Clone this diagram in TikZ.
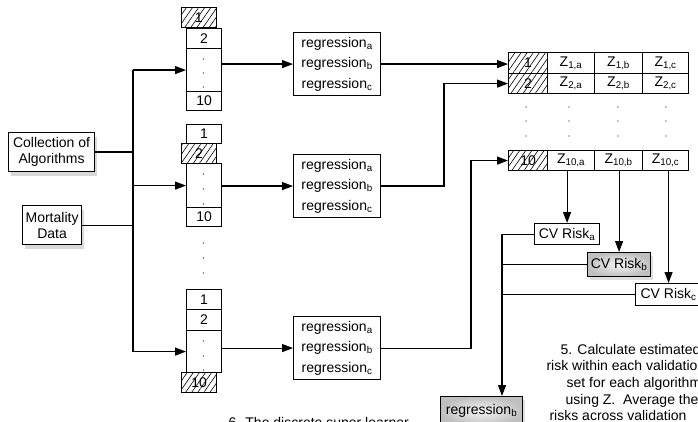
\documentclass[tikz,border=0pt]{standalone}
\usepackage{fontspec}
\setmainfont{Liberation Sans}
\usetikzlibrary{arrows.meta,patterns.meta,shadows}
\newcommand{\fsz}{\fontsize{14}{16}\selectfont}
\begin{document}
\begin{tikzpicture}[x=1pt,y=-1pt,line width=1.15pt,
  arr/.style={-{Triangle[length=11pt,width=8pt]}},
  cell/.style={draw,anchor=north west,minimum width=35pt,inner sep=0pt,font=\fsz},
  hcell/.style={cell,preaction={fill=white},pattern={Lines[angle=55,distance=5pt,line width=0.6pt]}},
  tcell/.style={draw,anchor=north west,minimum width=47pt,inner sep=0pt,font=\fsz},
  thcell/.style={tcell,minimum width=39pt,preaction={fill=white},pattern={Lines[angle=55,distance=5pt,line width=0.6pt]}},
  regbox/.style={draw,fill=white,anchor=north west,minimum width=87pt,minimum height=63pt,inner sep=0pt,align=center,font=\fontsize{14}{20.5}\selectfont},
  inbox/.style={draw,fill=white,anchor=north west,inner sep=0pt,align=center,font=\fsz,
    drop shadow={shadow xshift=2pt,shadow yshift=-4pt,opacity=0.3}},
  cvbox/.style={draw,fill=white,anchor=north west,inner sep=0pt,font=\fsz},
  gbox/.style={cvbox,inner color=gray!8,outer color=gray!50,
    drop shadow={shadow xshift=2pt,shadow yshift=-3pt,opacity=0.25}},
  txt/.style={anchor=base west,inner sep=0pt,font=\fsz},
  dot/.style={circle,fill,inner sep=0pt,minimum size=1.3pt}
]
\useasboundingbox (0,0) rectangle (698,422);
\clip (0,0) rectangle (698,422);

% input boxes
\node[inbox,minimum width=86pt,minimum height=39pt] (coll) at (8,132) {Collection of\\Algorithms};
\node[inbox,minimum width=59pt,minimum height=39pt] (mort) at (22,205) {Mortality\\Data};

% column 1
\node[hcell,minimum height=20pt] (c1n1) at (181,7) {1};
\node[cell,minimum height=20pt] (c1n2) at (186,28) {2};
\node[cell,minimum height=43pt] (c1d) at (186,48) {};
\node[cell,minimum height=19pt] (c1n10) at (186,91) {10};
% column 2
\node[cell,minimum height=19pt] (c2n1) at (186,124) {1};
\node[hcell,minimum height=20pt] (c2n2) at (181,143) {2};
\node[cell,minimum height=44pt] (c2d) at (186,163) {};
\node[cell,minimum height=19pt] (c2n10) at (186,207) {10};
% column 3
\node[cell,minimum height=20pt] (c3n1) at (186,289) {1};
\node[cell,minimum height=21pt] (c3n2) at (186,309) {2};
\node[cell,minimum height=42pt] (c3d) at (186,330) {};
\node[hcell,minimum height=20pt] (c3n10) at (181,372) {10};

% dots inside columns
\foreach \y in {59,73,87} {\node[dot] at (203.5,\y) {};}
\foreach \y in {174,189,204} {\node[dot] at (203.5,\y) {};}
\foreach \y in {341,356,370} {\node[dot] at (203.5,\y) {};}
\foreach \y in {243,258,273} {\node[dot] at (203.5,\y) {};}

% regression boxes
\node[regbox] (reg1) at (293,32) {regression\textsubscript{a}\\regression\textsubscript{b}\\regression\textsubscript{c}};
\node[regbox] (reg2) at (293,154) {regression\textsubscript{a}\\regression\textsubscript{b}\\regression\textsubscript{c}};
\node[regbox] (reg3) at (293,316) {regression\textsubscript{a}\\regression\textsubscript{b}\\regression\textsubscript{c}};

% Z table
\node[thcell,minimum height=21pt] (r1h) at (508,52) {1};
\node[tcell,minimum height=21pt] (r1a) at (547,52) {Z\textsubscript{1,a}};
\node[tcell,minimum height=21pt,minimum width=48pt] (r1b) at (594,52) {Z\textsubscript{1,b}};
\node[tcell,minimum height=21pt,minimum width=46pt] (r1c) at (642,52) {Z\textsubscript{1,c}};
\node[thcell,minimum height=20pt] (r2h) at (508,73) {2};
\node[tcell,minimum height=20pt] (r2a) at (547,73) {Z\textsubscript{2,a}};
\node[tcell,minimum height=20pt,minimum width=48pt] (r2b) at (594,73) {Z\textsubscript{2,b}};
\node[tcell,minimum height=20pt,minimum width=46pt] (r2c) at (642,73) {Z\textsubscript{2,c}};
\node[thcell,minimum height=20pt] (r10h) at (508,150) {10};
\node[tcell,minimum height=20pt] (r10a) at (547,150) {Z\textsubscript{10,a}};
\node[tcell,minimum height=20pt,minimum width=48pt] (r10b) at (594,150) {Z\textsubscript{10,b}};
\node[tcell,minimum height=20pt,minimum width=46pt] (r10c) at (642,150) {Z\textsubscript{10,c}};
\foreach \x in {526,569,618,666} {\foreach \y in {107,121,136} {\node[dot] at (\x,\y) {};}}

% CV risk boxes
\node[cvbox,minimum width=65pt,minimum height=21pt] (cva) at (534,223) {CV Risk\textsubscript{a}};
\node[gbox,minimum width=63pt,minimum height=24pt] (cvb) at (587,252) {CV Risk\textsubscript{b}};
\node[cvbox,minimum width=66pt,minimum height=22pt] (cvc) at (635,283) {CV Risk\textsubscript{c}};
\node[gbox,minimum width=82pt,minimum height=29pt] (regb) at (440,396) {regression\textsubscript{b}};

% texts
\node[txt] (s5a) at (560,354) {5. Calculate estimated};
\node[txt] (s5b) at (546,370.7) {risk within each validation};
\node[txt] (s5c) at (566,387.3) {set for each algorithm};
\node[txt] (s5d) at (565,404) {using Z.\ \ Average the};
\node[txt] (s5e) at (549,420.7) {risks across validation};
\node[txt] (s6) at (228,427) {6. The discrete super learner};

% connectors: inputs to folds
\coordinate (tx) at (133,0);
\draw (tx |- c1d.west) -- (tx |- c3d.west);
\draw (coll.east) -- (coll.east -| tx);
\draw (mort.east) -- (mort.east -| tx);
\draw[arr] (tx |- c1d.west) -- (c1d.west);
\draw[arr] (tx |- c2d.west) -- (c2d.west);
\draw[arr] (tx |- c3d.west) -- (c3d.west);

% folds to regressions
\draw[arr] (reg1.west -| c1d.east) -- (reg1.west);
\draw[arr] (reg2.west -| c2d.east) -- (reg2.west);
\draw[arr] (reg3.west -| c3d.east) -- (reg3.west);

% regressions to Z table
\coordinate (k2) at (444,0);
\coordinate (k3) at (471,0);
\draw[arr] (reg1.east) -- (reg1.east -| r1h.west);
\draw[arr] (reg2.east) -| (k2 |- r2h.west) -- (r2h.west);
\draw[arr] (reg3.east) -| (k3 |- r10h.west) -- (r10h.west);

% Z to CV risks
\draw[arr] (cva.north |- r10a.south) -- (cva.north);
\draw[arr] (cvb.north |- r10b.south) -- (cvb.north);
\draw[arr] (cvc.north |- r10c.south) -- (cvc.north);

% CV risks to selected regression
\coordinate (vx) at (502,0);
\draw (cvb.west) -- (cvb.west -| vx);
\draw (cvc.west) -- (cvc.west -| vx);
\draw (cva.west) -- (cva.west -| vx);
\draw[arr] (cva.west -| vx) -- (regb.north -| vx);
\end{tikzpicture}
\end{document}
